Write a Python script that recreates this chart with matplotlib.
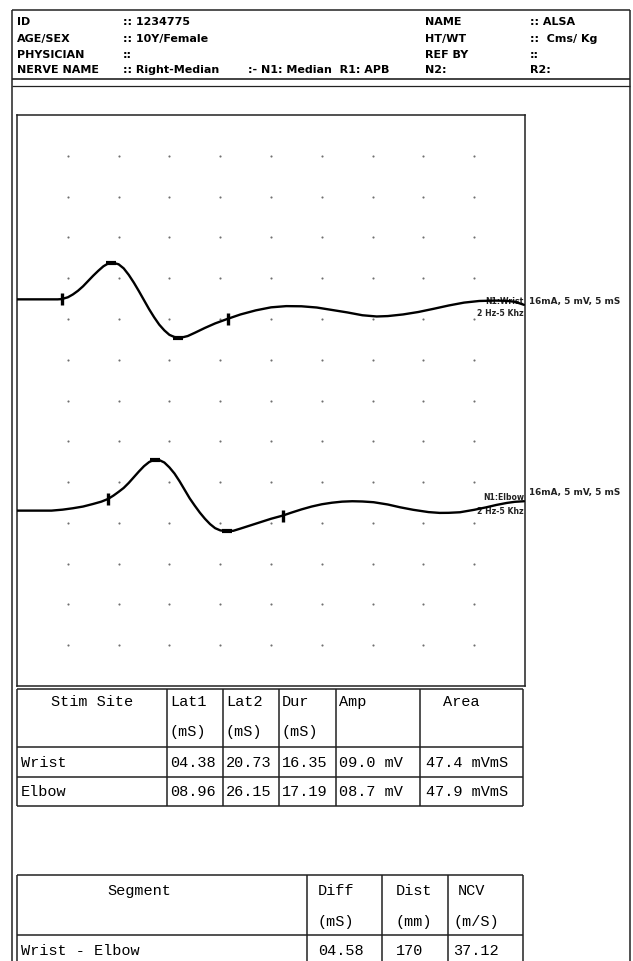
import numpy as np
import matplotlib
matplotlib.use('Agg')
import matplotlib.pyplot as plt

# ---- report header ----
left_labels = ['ID', 'AGE/SEX', 'PHYSICIAN', 'NERVE NAME']
left_values = [':: 1234775', ':: 10Y/Female', '::', ':: Right-Median']
right_labels = ['NAME', 'HT/WT', 'REF BY', 'N2:']
right_values = [':: ALSA', '::  Cms/ Kg', '::', 'R2:']
nerve_info = ':- N1: Median  R1: APB'

# ---- traces: time (ms) and amplitude (mV, relative to baseline) ----
wrist_t = [0.0, 4.0, 4.38, 5.0, 5.5, 6.0, 6.5, 7.0, 7.5, 8.0, 8.5, 9.0, 9.5,
           10.0, 10.5, 11.0, 11.5, 12.0, 12.5, 13.0, 13.5, 14.0, 14.5, 15.0,
           15.5, 15.88, 16.3, 16.8, 17.5, 18.5, 19.5, 20.73, 22.0, 23.5, 25.0,
           26.5, 28.0, 29.5, 31.0, 32.5, 34.0, 35.4, 36.5, 38.0, 39.5, 41.0,
           42.5, 44.0, 45.5, 47.0, 48.2, 49.0, 49.9]
wrist_v = [0.0, 0.0, 0.03, 0.25, 0.6, 1.05, 1.6, 2.25, 2.9, 3.5, 4.05, 4.42, 4.47,
           4.3, 3.8, 3.0, 2.05, 1.0, -0.1, -1.2, -2.2, -3.1, -3.8, -4.35,
           -4.62, -4.68, -4.65, -4.5, -4.1, -3.5, -2.95, -2.39, -1.85, -1.35, -0.98,
           -0.83, -0.85, -1.0, -1.3, -1.6, -1.95, -2.1, -2.05, -1.85, -1.55, -1.16,
           -0.75, -0.4, -0.2, -0.15, -0.18, -0.3, -0.67]
wrist_lat_t = [4.38, 20.73]
wrist_lat_v = [0.03, -2.39]
wrist_pk_t = [9.3, 15.88]
wrist_pk_v = [4.47, -4.68]

elbow_t = [0.0, 3.4, 4.5, 5.5, 6.5, 7.5, 8.3, 8.96, 9.5, 10.0, 10.5, 11.0,
           11.5, 12.0, 12.5, 13.0, 13.5, 14.0, 14.5, 15.0, 15.5, 16.0, 16.5,
           17.0, 17.5, 18.0, 18.5, 19.0, 19.5, 20.0, 20.64, 21.3, 22.0, 23.0,
           24.0, 25.0, 26.15, 27.0, 28.0, 29.0, 30.0, 31.0, 32.0, 33.0, 34.0,
           35.1, 36.5, 37.7, 39.0, 40.5, 41.6, 42.5, 43.6, 45.0, 46.2, 47.2,
           48.2, 49.0, 49.9]
elbow_v = [0.0, 0.0, 0.12, 0.29, 0.5, 0.82, 1.1, 1.43, 1.85, 2.3, 2.78, 3.4,
           4.1, 4.8, 5.45, 5.95, 6.25, 6.2, 5.9, 5.3, 4.55, 3.6, 2.55,
           1.5, 0.6, -0.25, -1.0, -1.65, -2.15, -2.42, -2.53, -2.47, -2.2, -1.8,
           -1.4, -1.0, -0.61, -0.25, 0.15, 0.5, 0.78, 0.97, 1.1, 1.15, 1.12,
           1.03, 0.75, 0.41, 0.1, -0.18, -0.28, -0.27, -0.2, 0.1, 0.41, 0.7,
           0.94, 1.08, 1.15]
elbow_lat_t = [8.96, 26.15]
elbow_lat_v = [1.43, -0.61]
elbow_pk_t = [13.6, 20.64]
elbow_pk_v = [6.25, -2.53]

trace_names = ['N1:Wrist', 'N1:Elbow']
trace_filter = '2 Hz-5 Khz'
trace_setting = '16mA, 5 mV, 5 mS'

# ---- result tables ----
stim_header = ['Stim Site', 'Lat1', 'Lat2', 'Dur', 'Amp', 'Area']
stim_units = ['', '(mS)', '(mS)', '(mS)', '', '']
stim_sites = ['Wrist', 'Elbow']
lat1 = [4.38, 8.96]
lat2 = [20.73, 26.15]
dur = [16.35, 17.19]
amp = [9.0, 8.7]
area = [47.4, 47.9]

seg_header = ['Segment', 'Diff', 'Dist', 'NCV']
seg_units = ['', '(mS)', '(mm)', '(m/S)']
segments = ['Wrist - Elbow']
seg_diff = [4.58]
seg_dist = [170]
seg_ncv = [37.12]

W, H = 633, 962
fig = plt.figure(figsize=(W / 100, H / 100), dpi=100)
fig.patch.set_facecolor('white')

# overlay in pixel coordinates for the report frame and tables
ov = fig.add_axes([0, 0, 1, 1])
ov.set_xlim(0, W)
ov.set_ylim(H, 0)
ov.axis('off')

line_kw = dict(color='#222222', linewidth=1.1)

# outer frame
ov.hlines(11, 12, 630, **line_kw)
ov.vlines([12, 630], 11, H, **line_kw)
ov.hlines([80, 87], 12, 630, color='#222222', linewidth=[1.2, 0.9])

hfont = dict(family='DejaVu Sans', fontweight='bold', fontsize=8, va='center')
row_y = [22, 39, 55, 70]
for i, y in enumerate(row_y):
    ov.text(17, y, left_labels[i], **hfont)
    ov.text(123, y, left_values[i], **hfont)
    ov.text(425, y, right_labels[i], **hfont)
    ov.text(530, y, right_values[i], **hfont)
ov.text(248, row_y[3], nerve_info, **hfont)

# ---- trace panel ----
ax = fig.add_axes([17 / W, 1 - 687 / H, 508 / W, 571 / H])
ax.set_xlim(0, 50)
ax.set_ylim(-70, 0)
ax.set_xticks([])
ax.set_yticks([])
for s in ax.spines.values():
    s.set_color('#222222')
    s.set_linewidth(1.1)

gx, gy = np.meshgrid(np.arange(5, 50, 5), np.arange(-65, 0, 5))
ax.scatter(gx.ravel(), gy.ravel(), s=2.4, color='#707070', linewidths=0)

# channel labels sit under the traces (the trace runs through "N1:Wrist")
lab_kw = dict(family='DejaVu Sans', fontweight='bold', fontsize=5.6,
              color='#222222', va='center', clip_on=False, zorder=2,
              transform=ov.transData)
name_y = [301.5, 498]
filt_y = [314, 511]
set_y = [302, 493]
for i in range(2):
    ax.text(524, name_y[i], trace_names[i], ha='right', **lab_kw)
    ax.text(524, filt_y[i], trace_filter, ha='right', **lab_kw)
    ax.text(529, set_y[i], trace_setting, ha='left',
            **dict(lab_kw, fontsize=6.4))

offsets = [-22.6, -48.5]
traces = [(wrist_t, wrist_v, wrist_lat_t, wrist_lat_v, wrist_pk_t, wrist_pk_v),
          (elbow_t, elbow_v, elbow_lat_t, elbow_lat_v, elbow_pk_t, elbow_pk_v)]
for off, (t, v, lt, lv, pt, pv) in zip(offsets, traces):
    ax.plot(t, np.array(v) + off, color='black', linewidth=1.7,
            solid_joinstyle='round', solid_capstyle='round', zorder=3)
    ax.plot(lt, np.array(lv) + off, linestyle='none', marker='|',
            markersize=9, markeredgewidth=2.4, color='black', zorder=4)
    ax.plot(pt, np.array(pv) + off, linestyle='none', marker='_',
            markersize=7, markeredgewidth=3, color='black', zorder=4)

# ---- stimulation table ----
tfont = dict(family='Liberation Mono', fontsize=11, va='center', color='black')
c1 = [17, 167, 223, 279, 336, 420, 523]
ov.hlines([690, 748, 778, 807], c1[0], c1[-1], **line_kw)
ov.vlines(c1, 690, 807, **line_kw)

hx = [92, 170, 226, 282, 339, 443]
for i, txt in enumerate(stim_header):
    ov.text(hx[i], 702, txt, ha='center' if i == 0 else 'left', **tfont)
    if stim_units[i]:
        ov.text(hx[i], 732, stim_units[i], ha='left', **tfont)

vx = [21, 170, 226, 282, 339, 426]
row_ty = [763, 792]
for r, site in enumerate(stim_sites):
    cells = [site, '%05.2f' % lat1[r], '%05.2f' % lat2[r], '%05.2f' % dur[r],
             '%04.1f mV' % amp[r], '%.1f mVmS' % area[r]]
    for i, txt in enumerate(cells):
        ov.text(vx[i], row_ty[r], txt, ha='left', **tfont)

# ---- conduction velocity table ----
c2 = [17, 307, 382, 448, 523]
ov.hlines([876, 936], c2[0], c2[-1], **line_kw)
ov.vlines(c2, 876, H, **line_kw)

sx = [107, 318, 396, 458]
ux = [107, 318, 396, 453]
for i, txt in enumerate(seg_header):
    ov.text(sx[i], 891, txt, ha='left', **tfont)
    if seg_units[i]:
        ov.text(ux[i], 922, seg_units[i], ha='left', **tfont)

dx = [21, 318, 396, 453]
for r, seg in enumerate(segments):
    cells = [seg, '%05.2f' % seg_diff[r], '%d' % seg_dist[r], '%.2f' % seg_ncv[r]]
    for i, txt in enumerate(cells):
        ov.text(dx[i], 951, txt, ha='left', **tfont)

fig.savefig('out.png', dpi=100, facecolor='white')
